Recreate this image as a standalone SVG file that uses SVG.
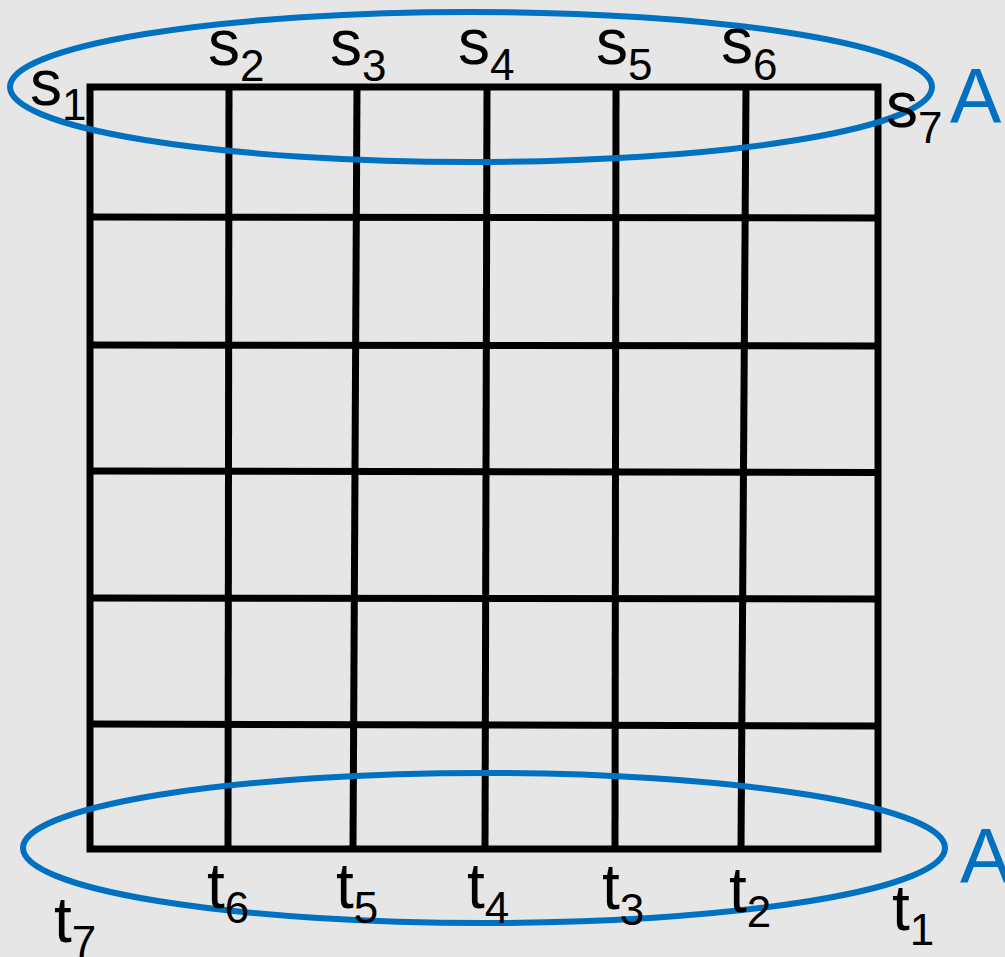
<svg xmlns="http://www.w3.org/2000/svg" width="1005" height="957" viewBox="0 0 1005 957">
<style>
.g{stroke:#000;stroke-width:7;fill:none;stroke-linejoin:miter}
.e{stroke:#0070c0;stroke-width:6;fill:none}
.lb{font-family:"Liberation Sans",Arial,sans-serif;font-size:64px;fill:#000}
.sub{font-size:44px}
.a{font-family:"Liberation Sans",Arial,sans-serif;font-size:77px;fill:#0070c0}
</style>
<rect width="1005" height="957" fill="#e6e6e6"/>
<g id="grid" class="g">
<path d="M90 87 L878 87 L878 849 L90 849 Z"/>
<line x1="229" y1="87" x2="228" y2="849"/>
<line x1="357" y1="87" x2="353" y2="849"/>
<line x1="487" y1="87" x2="485" y2="849"/>
<line x1="616" y1="87" x2="615" y2="849"/>
<line x1="746" y1="87" x2="741" y2="849"/>
<line x1="90" y1="217" x2="878" y2="218"/>
<line x1="90" y1="345" x2="878" y2="346"/>
<line x1="90" y1="471" x2="878" y2="472.5"/>
<line x1="90" y1="598" x2="878" y2="599"/>
<line x1="90" y1="724" x2="878" y2="726"/>
</g>
<g id="setA-top"><ellipse class="e" cx="471" cy="87" rx="461" ry="75"/></g>
<g id="setA-bottom"><ellipse class="e" cx="484" cy="848" rx="461" ry="75"/></g>
<g id="labels-s">
<text class="lb" x="30" y="105">s<tspan class="sub" dy="15">1</tspan></text>
<text class="lb" x="208" y="65">s<tspan class="sub" dy="16">2</tspan></text>
<text class="lb" x="330" y="65">s<tspan class="sub" dy="16">3</tspan></text>
<text class="lb" x="458" y="64">s<tspan class="sub" dy="16">4</tspan></text>
<text class="lb" x="596" y="64">s<tspan class="sub" dy="16">5</tspan></text>
<text class="lb" x="721" y="63">s<tspan class="sub" dy="17">6</tspan></text>
<text class="lb" x="886" y="127">s<tspan class="sub" dy="16">7</tspan></text>
</g>
<g id="labels-t">
<text class="lb" x="54" y="942">t<tspan class="sub" dy="15">7</tspan></text>
<text class="lb" x="207" y="908">t<tspan class="sub" dy="15">6</tspan></text>
<text class="lb" x="336" y="908">t<tspan class="sub" dy="15">5</tspan></text>
<text class="lb" x="467" y="908">t<tspan class="sub" dy="15">4</tspan></text>
<text class="lb" x="602" y="909">t<tspan class="sub" dy="16">3</tspan></text>
<text class="lb" x="729" y="912">t<tspan class="sub" dy="15">2</tspan></text>
<text class="lb" x="892" y="930">t<tspan class="sub" dy="15">1</tspan></text>
</g>
<g id="labels-A">
<text class="a" x="950" y="123">A</text>
<text class="a" x="960" y="883">A</text>
</g>
</svg>
